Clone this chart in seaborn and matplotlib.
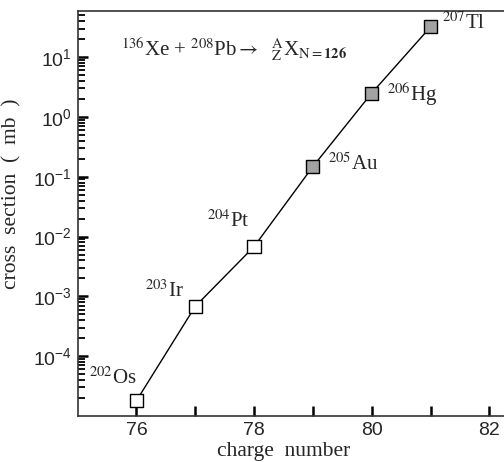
import seaborn as sns
import numpy as np
import pandas as pd
import matplotlib.pyplot as plt
from matplotlib.ticker import NullFormatter

sns.set_style("ticks")
plt.rcParams['font.family'] = ['Liberation Serif', 'DejaVu Serif']
plt.rcParams['mathtext.fontset'] = 'custom'
plt.rcParams['mathtext.rm'] = 'Liberation Sans'
plt.rcParams['mathtext.it'] = 'Liberation Sans:italic'
plt.rcParams['mathtext.bf'] = 'Liberation Sans:bold'

# data
charge = [76, 77, 78, 79, 80, 81]
xsec = [1.8e-5, 6.8e-4, 6.8e-3, 0.148, 2.5, 32.0]
nuclide = ['$^{202}$Os', '$^{203}$Ir', '$^{204}$Pt', '$^{205}$Au', '$^{206}$Hg', '$^{207}$Tl']
group = ['open', 'open', 'open', 'filled', 'filled', 'filled']

df = pd.DataFrame(dict(charge=charge, xsec=xsec, group=group))

f = plt.figure(figsize=(5.04, 4.62), dpi=100)
ax = f.add_axes([0.154, 0.0996, 0.852, 0.8766])

sns.lineplot(data=df, x='charge', y='xsec', color='black', lw=1.0, ax=ax)
sns.scatterplot(data=df, x='charge', y='xsec', hue='group',
                palette={'open': 'white', 'filled': '#a3a3a3'},
                marker='s', s=90, edgecolor='black', linewidth=1.0,
                legend=False, zorder=3, ax=ax)

ax.set_yscale('log')
ax.set_xlim(75, 82.3)
ax.set_ylim(1e-5, 59)

ax.set_xticks(range(76, 83))
ax.set_xticklabels([str(v) if v % 2 == 0 else '' for v in range(76, 83)])
ax.set_yticks([1e-4, 1e-3, 1e-2, 1e-1, 1e0, 1e1])
ax.set_yticklabels(['$10^{-4}$', '$10^{-3}$', '$10^{-2}$', '$10^{-1}$', '$10^{0}$', '$10^{1}$'])
minor = [m * 10.0 ** e for e in range(-5, 2) for m in range(2, 10)]
ax.set_yticks([v for v in minor if v < 59], minor=True)
ax.yaxis.set_minor_formatter(NullFormatter())

ax.tick_params(axis='both', which='major', direction='in', length=7, width=1.8,
               labelsize=14, pad=4, color='black')
ax.tick_params(axis='y', which='minor', direction='in', length=5, width=1.3,
               left=True, color='black')
ax.tick_params(axis='x', which='minor', bottom=False)
for lab in ax.get_xticklabels() + ax.get_yticklabels():
    lab.set_fontfamily('Liberation Sans')

for s in ['left', 'bottom', 'top']:
    ax.spines[s].set_linewidth(1.2)
    ax.spines[s].set_color('#333333')
ax.spines['right'].set_visible(False)

ax.set_xlabel('charge  number', fontsize=15.5)
ax.xaxis.set_label_coords(0.479, -0.065)
ax.set_ylabel('cross  section  (  mb  )', fontsize=15.5)
ax.yaxis.set_label_coords(-0.13, 0.548)

# nuclide labels (offsets in points)
offsets = [(0, 16.5, 'right'), (-8, 11, 'right'), (-3, 18, 'right'),
           (10.8, 1.4, 'left'), (10.8, -0.7, 'left'), (8, 3, 'left')]
for x, y, lab, (dx, dy, ha) in zip(charge, xsec, nuclide, offsets):
    ax.annotate(lab, (x, y), xytext=(dx, dy), textcoords='offset points',
                ha=ha, va='center', fontsize=15, math_fontfamily='stix')

ax.text(0.10, 0.905,
        r'$^{136}$Xe + $^{208}$Pb$\rightarrow$  $^{\mathrm{A}}_{\mathrm{Z}}$X$_{\mathrm{N=}\mathbf{126}}$',
        transform=ax.transAxes, fontsize=15, math_fontfamily='stix', va='center')

plt.savefig('out.png', dpi=100)
